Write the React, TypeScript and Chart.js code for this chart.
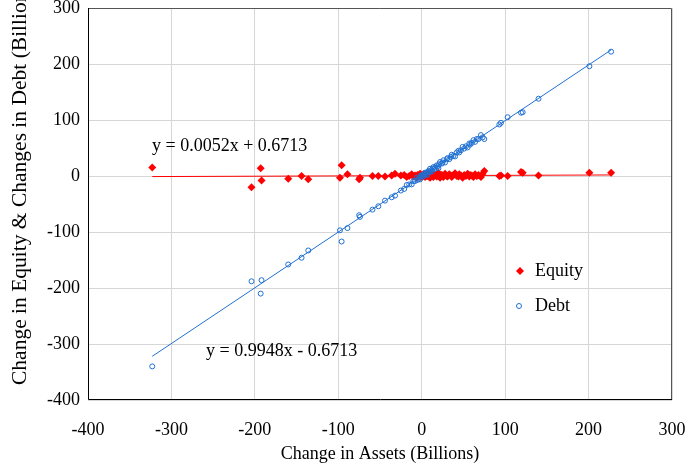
import React, { useEffect, useRef } from "react";
import { Chart, registerables } from "chart.js";

Chart.register(...registerables);

// Change in assets (Billions) - shared x values
const assets = [
  -323, -204, -193, -192, -160, -144, -136, -98, -96, -89, -75, -74, -59, -52, -44, -36, -32,
  -25, -21, -18, -15, -12, -10, -8, -6, -5, -3, -2, -1, 0, 1, 2, 3, 4, 5, 6, 7, 8, 9, 10,
  11, 12, 13, 14, 15, 16, 18, 19, 20, 21, 22, 24, 25, 26, 28, 30, 31, 33, 35, 36, 38, 40,
  42, 44, 45, 47, 49, 51, 53, 55, 57, 58, 60, 62, 64, 66, 68, 71, 73, 75,
  93, 95, 103, 119, 121, 140, 201, 227,
];

// Change in equity (Billions)
const equity = [
  15, -20, 14, -8, -5, 0, -6, -3, 19, 3, -6, -3, 0, 0, -1, 1, 4,
  1, 2, -2, 0, 3, -1, 1, -3, 2, 0, 4, -2, 1, -1, 3, 0, -2, 2, 0, 5, -1, 2, -3,
  1, 4, 0, -2, 3, 1, -1, 2, 6, 0, -3, 2, 1, -2, 4, 0, -1, 3, 1, -2, 2, 5,
  0, -1, 3, 1, -3, 2, 0, 4, -1, 2, 1, -2, 3, 0, 2, -2, 4, 9,
  0, 1, 0, 7, 6, 1, 6, 6,
];

// Change in debt (Billions)
const debt = [
  -340, -188, -210, -186, -158, -146, -133, -97, -117, -93, -70, -73, -60, -54, -44, -38, -35,
  -26, -23, -16, -15, -15, -9, -9, -3, -7, -3, -6, 1, -1, 2, -1, 3, 6, 3, 6, 2, 9, 7, 13,
  10, 8, 13, 16, 12, 15, 19, 17, 14, 21, 25, 22, 24, 28, 24, 30, 32, 30, 34, 38, 36, 35,
  42, 45, 42, 46, 52, 49, 53, 51, 58, 56, 59, 64, 61, 66, 66, 73, 69, 66,
  92, 95, 105, 113, 114, 138, 196, 222,
];

// Trend line equations shown on the chart
const equitySlope = 0.0052;
const equityIntercept = 0.6713;
const debtSlope = 0.9948;
const debtIntercept = -0.6713;

const xTicks = [-400, -300, -200, -100, 0, 100, 200, 300];
const yTicks = [-400, -300, -200, -100, 0, 100, 200, 300];

const seriesNames = ["Equity", "Debt"];
const equationLabels = ["y = 0.0052x + 0.6713", "y = 0.9948x - 0.6713"];
const xTitle = "Change in Assets (Billions)";
const yTitle = "Change in Equity & Changes in Debt (Billions)";

const RED = "#FF0000";
const BLUE = "#1F6FD1";
const FONT = "'Liberation Serif', 'Times New Roman', serif";

export default function App() {
  const ref = useRef<HTMLCanvasElement | null>(null);

  useEffect(() => {
    document.body.style.margin = "0";
    if (!ref.current) return;
    const xMin = Math.min(...assets);
    const xMax = Math.max(...assets);

    const overlay = {
      id: "overlay",
      afterDatasetsDraw(chart: any) {
        const { ctx, chartArea } = chart;
        const { left, right, top, bottom } = chartArea;
        ctx.save();
        // plot border
        ctx.lineWidth = 1;
        ctx.strokeStyle = "#555555";
        ctx.beginPath();
        ctx.moveTo(left, top + 0.5);
        ctx.lineTo(right - 0.5, top + 0.5);
        ctx.lineTo(right - 0.5, bottom);
        ctx.stroke();
        ctx.strokeStyle = "#000000";
        ctx.beginPath();
        ctx.moveTo(left + 0.5, top);
        ctx.lineTo(left + 0.5, bottom - 0.5);
        ctx.lineTo(right, bottom - 0.5);
        ctx.stroke();

        // equations
        ctx.fillStyle = "#000";
        ctx.font = `18px ${FONT}`;
        ctx.textBaseline = "middle";
        ctx.textAlign = "left";
        ctx.fillText(equationLabels[0], 152, 146);
        ctx.fillText(equationLabels[1], 206, 351);

        // legend
        const lx = 520;
        const ly1 = 271;
        const ly2 = 306;
        ctx.fillStyle = RED;
        ctx.beginPath();
        ctx.moveTo(lx - 4, ly1);
        ctx.lineTo(lx, ly1 - 4);
        ctx.lineTo(lx + 4, ly1);
        ctx.lineTo(lx, ly1 + 4);
        ctx.closePath();
        ctx.fill();
        ctx.strokeStyle = BLUE;
        ctx.lineWidth = 1;
        ctx.beginPath();
        ctx.arc(lx - 1, ly2, 2.5, 0, Math.PI * 2);
        ctx.stroke();
        ctx.fillStyle = "#000";
        ctx.font = `18px ${FONT}`;
        ctx.fillText(seriesNames[0], 535, ly1);
        ctx.fillText(seriesNames[1], 535, ly2);

        // axis titles
        ctx.textAlign = "center";
        ctx.fillText(xTitle, (left + right) / 2, 454);
        ctx.save();
        ctx.translate(20, 385);
        ctx.rotate(-Math.PI / 2);
        ctx.textAlign = "left";
        ctx.font = `21.5px ${FONT}`;
        ctx.fillText(yTitle, 0, 0);
        ctx.restore();
        ctx.restore();
      },
    };

    const chart = new Chart(ref.current, {
      type: "scatter",
      data: {
        datasets: [
          {
            label: seriesNames[1],
            data: assets.map((x, i) => ({ x, y: debt[i] })),
            pointStyle: "circle",
            pointRadius: 2.5,
            pointBorderWidth: 1,
            pointBackgroundColor: "rgba(255,255,255,0)",
            pointBorderColor: BLUE,
          },
          {
            label: "Debt trend",
            data: [
              { x: xMin, y: debtSlope * xMin + debtIntercept },
              { x: xMax, y: debtSlope * xMax + debtIntercept },
            ],
            showLine: true,
            borderColor: BLUE,
            borderWidth: 1,
            pointRadius: 0,
          },
          {
            label: seriesNames[0],
            data: assets.map((x, i) => ({ x, y: equity[i] })),
            pointStyle: "rectRot",
            pointRadius: 4,
            pointBorderWidth: 0,
            pointBackgroundColor: RED,
            pointBorderColor: RED,
          },
          {
            label: "Equity trend",
            data: [
              { x: xMin, y: equitySlope * xMin + equityIntercept },
              { x: xMax, y: equitySlope * xMax + equityIntercept },
            ],
            showLine: true,
            borderColor: RED,
            borderWidth: 1,
            pointRadius: 0,
          },
        ],
      } as any,
      options: {
        responsive: false,
        animation: false,
        layout: { padding: { top: 8, right: 14, left: 0, bottom: 0 } },
        plugins: { legend: { display: false }, tooltip: { enabled: false } },
        scales: {
          x: {
            type: "linear",
            min: xTicks[0],
            max: xTicks[xTicks.length - 1],
            afterBuildTicks: (s: any) => {
              s.ticks = xTicks.map((v) => ({ value: v }));
            },
            afterFit: (s: any) => {
              s.height = 68;
              s.paddingLeft = 0;
              s.paddingRight = 0;
            },
            grid: { color: "#d6d6d6", lineWidth: 1, drawTicks: false },
            border: { display: false },
            ticks: {
              padding: 19,
              color: "#000",
              font: { family: FONT, size: 18 },
              maxRotation: 0,
            },
          },
          y: {
            type: "linear",
            min: yTicks[0],
            max: yTicks[yTicks.length - 1],
            afterBuildTicks: (s: any) => {
              s.ticks = yTicks.map((v) => ({ value: v }));
            },
            afterFit: (s: any) => {
              s.width = 88;
              s.paddingTop = 0;
              s.paddingBottom = 0;
            },
            grid: { color: "#d6d6d6", lineWidth: 1, drawTicks: false },
            border: { display: false },
            ticks: {
              padding: 8,
              color: "#000",
              font: { family: FONT, size: 18 },
            },
          },
        },
      } as any,
      plugins: [overlay],
    });
    return () => chart.destroy();
  }, []);

  return (
    <div style={{ width: 686, height: 468 }}>
      <canvas ref={ref} width={686} height={468} style={{ display: "block" }} />
    </div>
  );
}
